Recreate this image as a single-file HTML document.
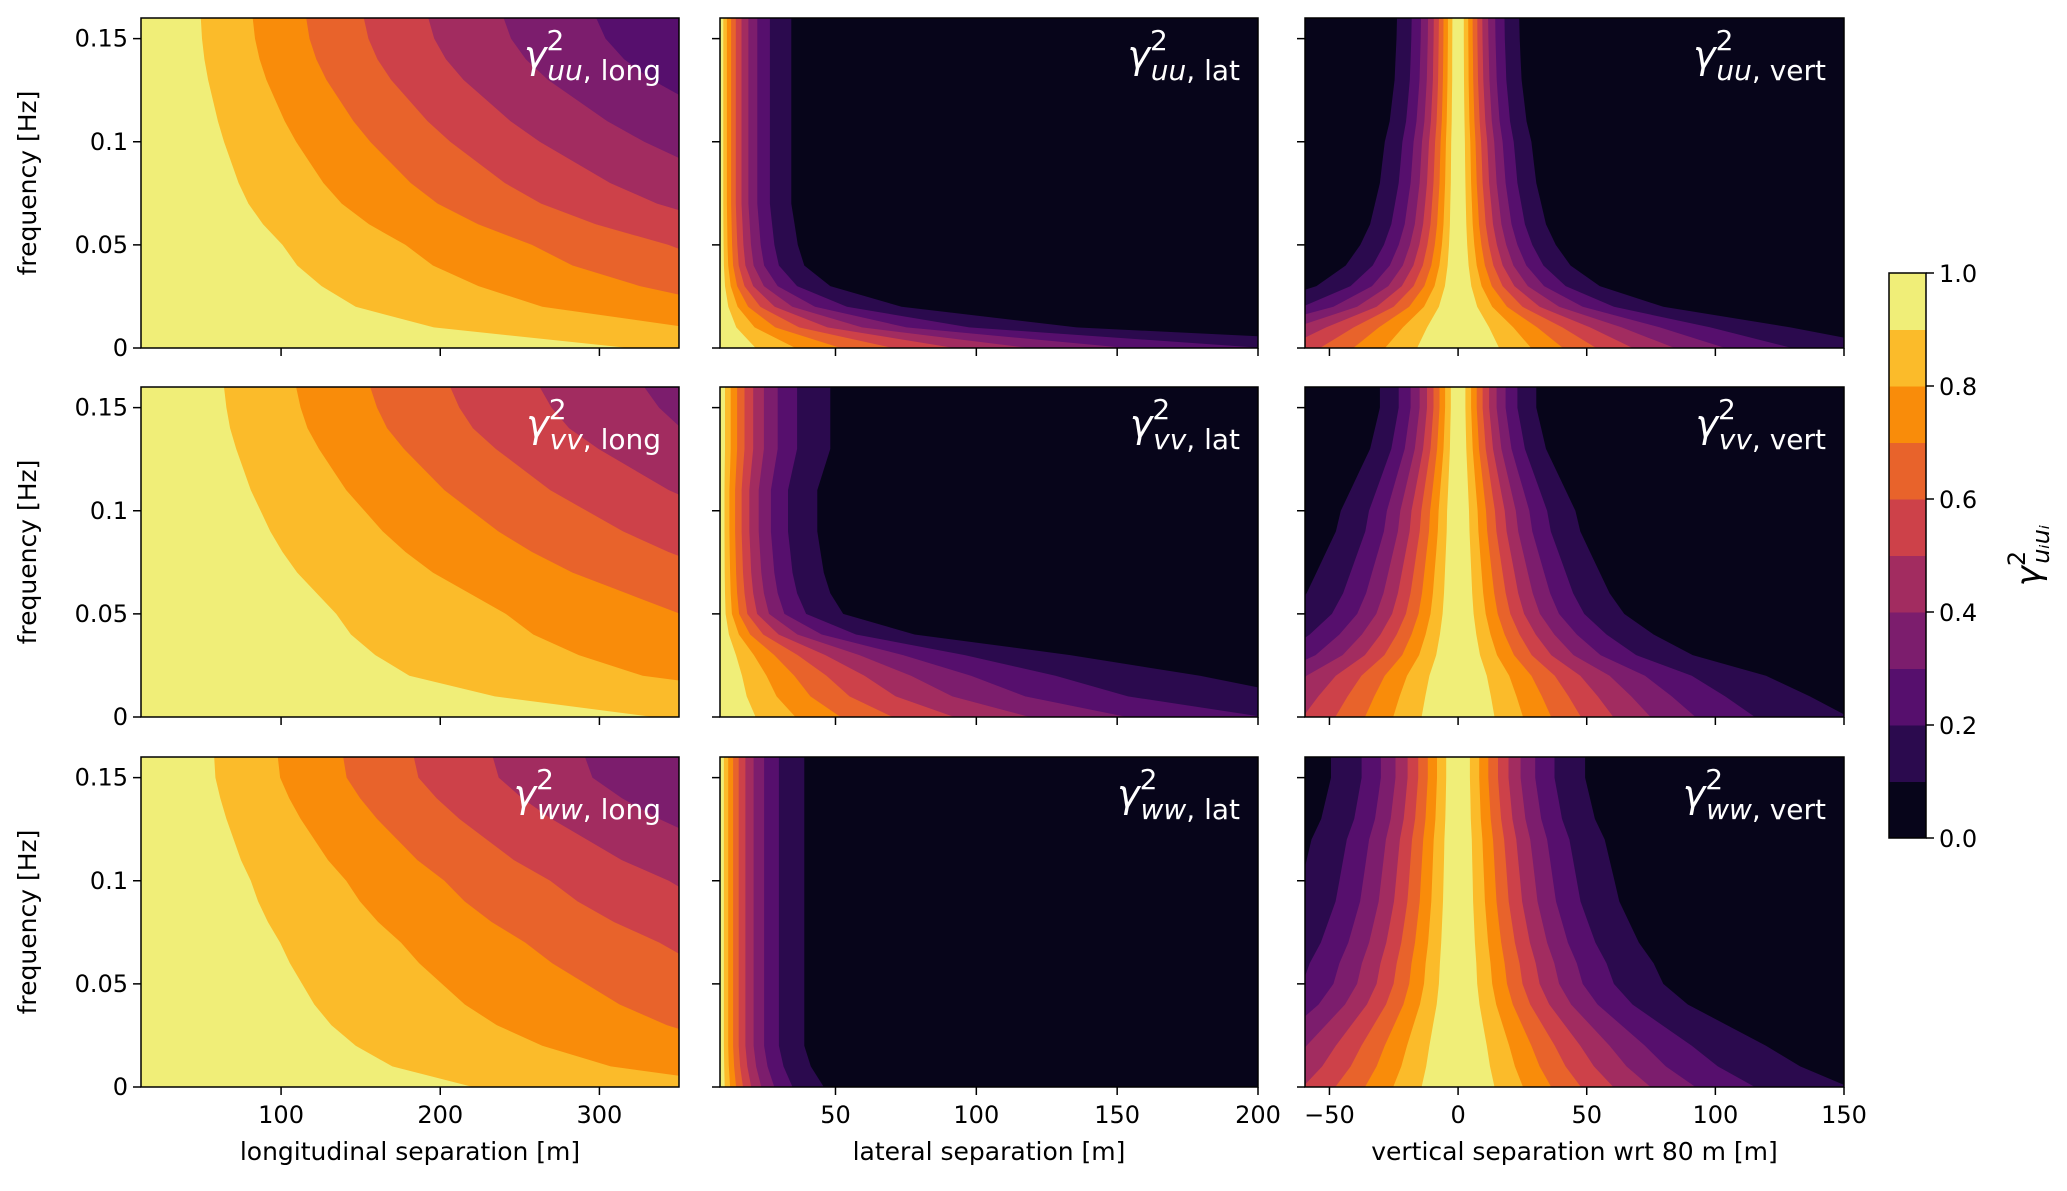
<!DOCTYPE html>
<html><head><meta charset="utf-8">
<style>
body{margin:0;background:#fff;width:2067px;height:1187px;overflow:hidden;font-family:"DejaVu Sans","Liberation Sans",sans-serif}
svg text{font-family:"DejaVu Sans","Liberation Sans",sans-serif}
</style></head><body>
<svg id="fig" width="2067" height="1187" xmlns="http://www.w3.org/2000/svg"></svg>
<script>
// ---- data ----
const freqs = [0,0.01,0.02,0.03,0.04,0.05,0.06,0.07,0.08,0.09,0.10,0.11,0.12,0.13,0.14,0.15,0.16];
const levels = [0.1,0.2,0.3,0.4,0.5,0.6,0.7,0.8,0.9];
const bandColors = ["#07051a","#2b0a4e","#560f6d","#7c1d6d","#a22c60","#cd4149","#e8632b","#f98c0a","#fbbb2a","#f0ee78"];
const cbTicks = [0.0,0.2,0.4,0.6,0.8,1.0];
const yTicks = [0,0.05,0.1,0.15];
const yTickLabels = ["0","0.05","0.1","0.15"];
const longTicks = [100,200,300];
const latTicks = [50,100,150,200];
const vertTicks = [-50,0,50,100,150];
// decay length scale per frequency row for each panel
const L_uu_long = [2000,1200,880,740,640,580,500,440,400,370,340,315,295,275,260,250,245];
const L_vv_long = [2100,1450,1100,960,860,800,720,640,580,530,490,450,420,390,365,350,340];
const L_ww_long = [1360,1030,880,780,710,660,610,570,520,480,450,410,380,350,325,305,300];
const L_uu_lat = [120,55,28,17,13,12,11.5,11,11,11,11,11,11,11,11,11,11];
const L_vv_lat = [120,90,74,54,30,19,17,16,15.5,15,15,15,16,17,17,17,17];
const L_ww_lat = [16,14,13,13,13,13,13,13,13,13,13,13,13,13,13,13,13];
const L_uu_vert = [90,68,42,29,23,20,18,17,16,15.5,15,14,13.5,13,12.8,12.6,12.5];
const L_vv_vert = [80,72,63,48,40,34,31,29,27,25,24,22,20,18,17,16,16];
const L_ww_vert = [80,70,63,55,47,42,40,37,35,33,32,31,30,28,27,26,26];
// ---- layout ----
const svg=document.getElementById('fig');
const NS="http://www.w3.org/2000/svg";
function el(t,a,p){const e=document.createElementNS(NS,t);for(const k in a)e.setAttribute(k,a[k]);(p||svg).appendChild(e);return e;}
const colX=[141,720,1305], colW=[538,538,539];
const rowY=[18,387,757], H=330, FMAX=0.16;
const cols=[
 {type:'long',xmin:12,xmax:350,s0:12,p:1.2,ticks:longTicks,label:'longitudinal separation [m]',name:'long'},
 {type:'lat',xmin:9,xmax:200,s0:9,p:1.0,ticks:latTicks,label:'lateral separation [m]',name:'lat'},
 {type:'vert',xmin:-59.5,xmax:150,s0:0,p:1.3,ticks:vertTicks,label:'vertical separation wrt 80 m [m]',name:'vert'}];
const comps=['uu','vv','ww'];
const Ls={uu:[L_uu_long,L_uu_lat,L_uu_vert],vv:[L_vv_long,L_vv_lat,L_vv_vert],ww:[L_ww_long,L_ww_lat,L_ww_vert]};
const defs=el('defs',{});
for(let r=0;r<3;r++)for(let c=0;c<3;c++){
  const C=cols[c],x0=colX[c],w=colW[c],y0=rowY[r];
  const sx=v=>x0+(v-C.xmin)/(C.xmax-C.xmin)*w;
  const sy=f=>y0+H-f/FMAX*H;
  const L=Ls[comps[r]][c];
  const id='clip'+r+c;
  const cp=el('clipPath',{id},defs);el('rect',{x:x0,y:y0,width:w,height:H},cp);
  const g=el('g',{'clip-path':'url(#'+id+')'});
  
  
  const bg=el('rect',{x:x0,y:y0,width:w,height:H,fill:bandColors[0]},g);
  
  
  levels.forEach((lev,k)=>{
    const d=i=>L[i]*Math.pow(-Math.log(lev),1/C.p);
    let pts=[];
    if(C.type==='vert'){
      for(let i=0;i<freqs.length;i++)pts.push([sx(C.s0+d(i)),sy(freqs[i])]);
      for(let i=freqs.length-1;i>=0;i--)pts.push([sx(C.s0-d(i)),sy(freqs[i])]);
    }else{
      pts.push([x0-5,sy(0)]);
      for(let i=0;i<freqs.length;i++)pts.push([sx(C.s0+d(i)),sy(freqs[i])]);
      pts.push([x0-5,sy(freqs[freqs.length-1])]);
    }
    const pg=el('polygon',{points:pts.map(p=>p[0].toFixed(1)+','+p[1].toFixed(1)).join(' '),fill:bandColors[k+1]},g);
    
    
  });
  const fr=el('rect',{x:x0,y:y0,width:w,height:H,fill:'none',stroke:'#000','stroke-width':1.5});
  
  
  yTicks.forEach((t,i)=>{
    el('line',{x1:x0-8,x2:x0,y1:sy(t),y2:sy(t),stroke:'#000','stroke-width':1.5});
    if(c===0){const tx=el('text',{x:x0-13,y:sy(t)+8,'font-size':24,'text-anchor':'end'});tx.textContent=yTickLabels[i];
      }
  });
  C.ticks.forEach(t=>{
    el('line',{x1:sx(t),x2:sx(t),y1:y0+H,y2:y0+H+8,stroke:'#000','stroke-width':1.5});
    if(r===2){const tx=el('text',{x:sx(t),y:y0+H+36,'font-size':24,'text-anchor':'middle'});tx.textContent=(t<0?'\u2212'+(-t):t);
      }
  });
  const tt=el('text',{x:x0+w-18,y:y0+50,'font-size':38,fill:'#fff','text-anchor':'end'});
  
  
  tt.innerHTML='<tspan font-style="italic">γ</tspan><tspan dy="-18" font-size="28">2</tspan><tspan dy="30" dx="-17" font-size="28" font-style="italic">'+comps[r]+'</tspan><tspan font-size="28">, '+C.name+'</tspan>';
  if(c===0){const yl=el('text',{transform:'translate(36,'+(y0+H/2)+') rotate(-90)','font-size':25,'text-anchor':'middle'});yl.textContent='frequency [Hz]';
    }
  if(r===2){const xl=el('text',{x:x0+w/2,y:1160,'font-size':25,'text-anchor':'middle'});xl.textContent=C.label;
    }
}
// colorbar
const cbx=1889,cbw=37,cby=273,cbh=565;
const cb=el('g',{});


bandColors.forEach((col,i)=>{el('rect',{x:cbx,y:cby+cbh-(i+1)*cbh/10,width:cbw,height:cbh/10+0.5,fill:col},cb);});
el('rect',{x:cbx,y:cby,width:cbw,height:cbh,fill:'none',stroke:'#000','stroke-width':1.5},cb);
cbTicks.forEach(t=>{const y=cby+cbh-t*cbh;
  el('line',{x1:cbx+cbw,x2:cbx+cbw+8,y1:y,y2:y,stroke:'#000','stroke-width':1.5},cb);
  const tx=el('text',{x:cbx+cbw+13,y:y+9,'font-size':24},cb);tx.textContent=t.toFixed(1);
  });
const cl=el('text',{transform:'translate(2040,'+(cby+cbh/2)+') rotate(-90)','font-size':34,'text-anchor':'middle'});


cl.innerHTML='<tspan font-style="italic">γ</tspan><tspan dy="-15" font-size="24">2</tspan><tspan dy="24" dx="-13" font-size="24" font-style="italic">uᵢuᵢ</tspan>';
</script>
</body></html>
